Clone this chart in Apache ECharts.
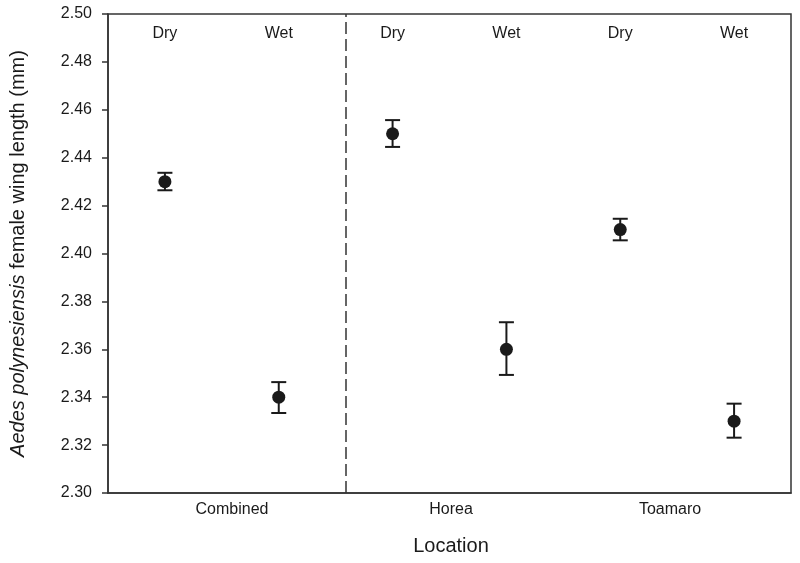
<!DOCTYPE html>
<html><head><meta charset="utf-8">
<script src="https://cdn.jsdelivr.net/npm/echarts@6/dist/echarts.min.js"></script>
<style>html,body{margin:0;padding:0;background:#fff}#c{width:800px;height:563px}</style>
</head><body><div id="c"></div>
<script>
const locations = ['Combined', 'Horea', 'Toamaro'];
const seasons = ['Dry', 'Wet', 'Dry', 'Wet', 'Dry', 'Wet'];
const xPos = [0.5, 1.5, 2.5, 3.5, 4.5, 5.5];
const means = [2.430, 2.340, 2.450, 2.360, 2.410, 2.330];
const errLow = [2.4264, 2.3334, 2.4445, 2.3493, 2.4055, 2.3231];
const errHigh = [2.4337, 2.3463, 2.4557, 2.3713, 2.4145, 2.3373];
const dividerX = 2.09;
const yTicks = { min: 2.30, max: 2.50, step: 0.02 };

const FONT = '"Liberation Sans", Arial, sans-serif';
const INK = '#1a1a1a';

const pts = xPos.map((x, i) => [x, means[i]]);
const errs = xPos.map((x, i) => [x, errLow[i], errHigh[i]]);

const chart = echarts.init(document.getElementById('c'));
chart.setOption({
  animation: false,
  backgroundColor: '#fff',
  grid: [
    { left: 107, right: 9, top: 14, bottom: 70, show: true, borderColor: '#333', borderWidth: 1.5, backgroundColor: 'transparent' },
    { left: 122.5, right: 20.5, top: 14, bottom: 70 }
  ],
  xAxis: [
    { type: 'value', gridIndex: 0, min: 0, max: 6, interval: 1, position: 'bottom',
      axisLine: { show: true, lineStyle: { color: '#333', width: 1.5 } },
      axisTick: { show: false }, axisLabel: { show: false }, splitLine: { show: false } },
    { type: 'category', gridIndex: 0, data: seasons, position: 'top', boundaryGap: true,
      axisLine: { show: false }, axisTick: { show: false },
      axisLabel: { inside: true, margin: 12, color: INK, fontFamily: FONT, fontSize: 16 } },
    { type: 'category', gridIndex: 1, data: locations, position: 'bottom', boundaryGap: true,
      axisLine: { show: false }, axisTick: { show: false },
      axisLabel: { margin: 9, color: INK, fontFamily: FONT, fontSize: 16 },
      name: 'Location', nameLocation: 'middle', nameGap: 43,
      nameTextStyle: { color: INK, fontFamily: FONT, fontSize: 20 } }
  ],
  yAxis: [
    { type: 'value', gridIndex: 0, min: yTicks.min, max: yTicks.max, interval: yTicks.step,
      axisLine: { show: true, lineStyle: { color: '#333', width: 1.5 } },
      axisTick: { show: true, inside: false, length: 6, lineStyle: { color: '#333', width: 1.5 } },
      axisLabel: { margin: 16, color: INK, fontFamily: FONT, fontSize: 16, formatter: v => v.toFixed(2) },
      splitLine: { show: false },
      name: '{i|Aedes polynesiensis} female wing length (mm)',
      nameLocation: 'middle', nameGap: 80,
      nameTextStyle: { color: INK, fontFamily: FONT, fontSize: 20,
        rich: { i: { fontStyle: 'italic', fontFamily: FONT, fontSize: 20, color: INK } } } },
    { type: 'value', gridIndex: 1, show: false, min: 0, max: 1 }
  ],
  series: [
    {
      type: 'custom', xAxisIndex: 0, yAxisIndex: 0, data: errs, z: 3,
      renderItem: function (params, api) {
        const x = api.value(0);
        const lo = api.coord([x, api.value(1)]);
        const hi = api.coord([x, api.value(2)]);
        const hw = 7.5;
        const st = { stroke: '#1a1a1a', lineWidth: 2 };
        return { type: 'group', children: [
          { type: 'line', shape: { x1: lo[0], y1: lo[1], x2: hi[0], y2: hi[1] }, style: st },
          { type: 'line', shape: { x1: lo[0] - hw, y1: lo[1], x2: lo[0] + hw, y2: lo[1] }, style: st },
          { type: 'line', shape: { x1: hi[0] - hw, y1: hi[1], x2: hi[0] + hw, y2: hi[1] }, style: st }
        ] };
      }
    },
    {
      type: 'scatter', xAxisIndex: 0, yAxisIndex: 0, data: pts, symbol: 'circle', symbolSize: 13, z: 4,
      itemStyle: { color: '#1a1a1a', opacity: 1 },
      markLine: { silent: true, symbol: 'none', label: { show: false },
        lineStyle: { color: '#333', width: 1.5, type: [12, 5] },
        data: [{ xAxis: dividerX }] }
    }
  ]
});
</script></body></html>
